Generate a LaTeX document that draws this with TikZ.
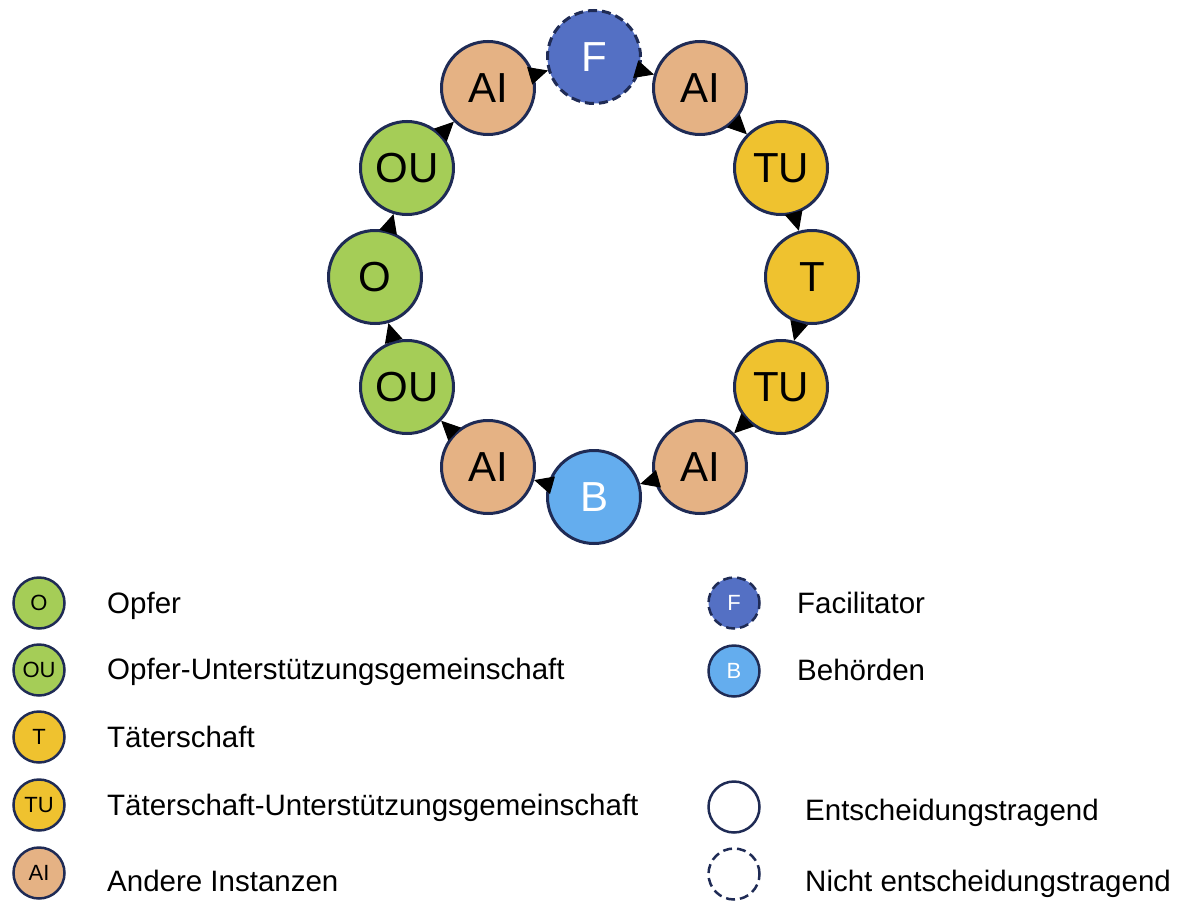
\documentclass[tikz,border=0pt]{standalone}
\usepackage{fontspec}
\setmainfont{Liberation Sans}
\usetikzlibrary{arrows.meta}
\definecolor{cgreen}{HTML}{A5CD57}
\definecolor{ctan}{HTML}{E5B284}
\definecolor{cyellow}{HTML}{EFC22F}
\definecolor{cfac}{HTML}{5470C4}
\definecolor{cbeh}{HTML}{64ADEE}
\definecolor{cline}{HTML}{1F2B55}
\begin{document}
\begin{tikzpicture}[x=1pt,y=-1pt,
  big/.style={circle,draw=cline,line width=3pt,minimum size=93pt,inner sep=0pt,font=\fontsize{42}{42}\selectfont},
  small/.style={circle,draw=cline,line width=2.5pt,minimum size=51pt,inner sep=0pt,font=\fontsize{22}{22}\selectfont},
  nondec/.style={dash pattern=on 9pt off 5pt},
  gO/.style={fill=cgreen},
  gA/.style={fill=ctan},
  gT/.style={fill=cyellow},
  gF/.style={fill=cfac,text=white,nondec},
  gB/.style={fill=cbeh,text=white},
  arr/.style={draw=black,line width=1pt,-{Triangle[length=19pt,width=18pt]}},
  legtext/.style={anchor=base west,inner sep=0pt,font=\fontsize{29.5}{30}\selectfont}
]
\useasboundingbox (0,0) rectangle (1183,902);
% ring
\node[big,gF] (F)   at (594,57)  {F};
\node[big,gA] (AI1) at (700,88)  {AI};
\node[big,gT] (TU1) at (781,168) {TU};
\node[big,gT] (T)   at (812,277) {T};
\node[big,gT] (TU2) at (781,387) {TU};
\node[big,gA] (AI2) at (700,467) {AI};
\node[big,gB] (B)   at (594,497) {B};
\node[big,gA] (AI3) at (488,467) {AI};
\node[big,gO] (OU1) at (407,387) {OU};
\node[big,gO] (O)   at (375,277) {O};
\node[big,gO] (OU2) at (407,168) {OU};
\node[big,gA] (AI4) at (488,88)  {AI};
\foreach \a/\b in {F/AI1,AI1/TU1,TU1/T,T/TU2,TU2/AI2,AI2/B,B/AI3,AI3/OU1,OU1/O,O/OU2,OU2/AI4,AI4/F}
  \draw[arr] (\a) -- (\b);
% legend left
\node[small,gO] (lO)  at (39,603) {O};
\node[small,gO] (lOU) at (39,670) {OU};
\node[small,gT] (lT)  at (39,737) {T};
\node[small,gT] (lTU) at (39,805) {TU};
\node[small,gA] (lAI) at (39,873) {AI};
\node[legtext] (tO)  at (107,613) {Opfer};
\node[legtext] (tOU) at (107,679) {Opfer-Unterstützungsgemeinschaft};
\node[legtext] (tT)  at (107,747) {Täterschaft};
\node[legtext] (tTU) at (107,815) {Täterschaft-Unterstützungsgemeinschaft};
\node[legtext] (tAI) at (107,891) {Andere Instanzen};
% legend right
\node[small,gF] (lF) at (734,603) {F};
\node[small,gB] (lB) at (734,671) {B};
\node[small,fill=white] (lE) at (734,807) {};
\node[small,fill=white,nondec] (lN) at (734,874) {};
\node[legtext] (tF) at (797,613) {Facilitator};
\node[legtext] (tB) at (797,680) {Behörden};
\node[legtext] (tE) at (805,820) {Entscheidungstragend};
\node[legtext] (tN) at (805,891) {Nicht entscheidungstragend};
\end{tikzpicture}
\end{document}
